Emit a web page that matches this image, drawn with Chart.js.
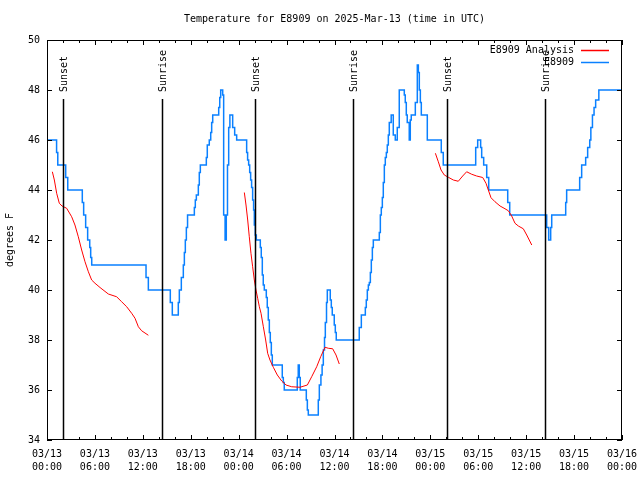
<!DOCTYPE html>
<html>
<head>
<meta charset="utf-8">
<script src="https://cdn.jsdelivr.net/npm/chart.js@4.4.0/dist/chart.umd.min.js"></script>
<style>
  body { margin: 0; background: #fff; }
</style>
</head>
<body>
<canvas id="temps" width="640" height="480"></canvas>
<script>
// hours after 03/13 00:00 UTC
var obsHours = [0, 1.2, 1.35, 2.34, 2.6, 4.42, 4.59, 4.84, 5.09, 5.35, 5.47, 5.6, 12.4, 12.69,
  15.44, 15.69, 16.44, 16.57, 16.82, 17.07, 17.2, 17.32, 17.45, 17.6, 18.45, 18.57, 18.7, 18.95,
  19.07, 19.2, 19.95, 20.07, 20.32, 20.5, 20.62, 20.75, 21.5, 21.63, 21.75, 22.0, 22.12, 22.3,
  22.45, 22.6, 22.75, 22.9, 23.25, 23.5, 23.75, 25.0, 25.12, 25.25, 25.38, 25.5, 25.62, 25.75,
  25.87, 25.96, 26.08, 26.21, 26.71, 26.83, 26.96, 27.08, 27.21, 27.46, 27.58, 27.71, 27.84,
  27.96, 28.09, 28.21, 29.46, 29.59, 29.71, 31.34, 31.46, 31.59, 31.71, 32.47, 32.6, 32.72,
  33.97, 34.1, 34.3, 34.45, 34.6, 34.75, 34.85, 35.0, 35.1, 35.47, 35.6, 35.72, 35.97, 36.1,
  36.22, 39.1, 39.36, 39.86, 39.98, 40.11, 40.24, 40.36, 40.49, 40.61, 40.74, 40.86, 41.61,
  41.74, 41.86, 41.99, 42.11, 42.24, 42.36, 42.49, 42.61, 42.74, 42.86, 43.1, 43.36, 43.61,
  43.86, 44.11, 44.74, 44.86, 44.99, 45.11, 45.36, 45.49, 45.61, 46.12, 46.37, 46.5, 46.62,
  46.75, 46.87, 47.62, 49.37, 49.62, 53.68, 53.93, 54.3, 54.43, 54.68, 55.06, 55.31, 57.69,
  57.94, 62.57, 62.82, 63.07, 63.2, 64.95, 65.07, 66.7, 66.95, 67.45, 67.7, 67.96, 68.1, 68.3,
  68.5, 68.7, 69.1, 72];
var obsTemps = [46, 45.5, 45, 44.5, 44, 43.5, 43, 42.5, 42, 41.7, 41.3, 41, 40.5, 40,
  39.5, 39, 39.5, 40, 40.5, 41, 41.5, 42, 42.5, 43, 43.3, 43.6, 43.8, 44.2,
  44.7, 45, 45.3, 45.8, 46, 46.3, 46.7, 47, 47.3, 47.7, 48, 47.8, 43, 42,
  43, 45, 46.5, 47, 46.5, 46.2, 46, 45.5, 45.2, 45, 44.7, 44.4, 44.1, 43.6,
  43.2, 42.6, 42.2, 42, 41.7, 41.3, 40.6, 40.2, 40, 39.7, 39.3, 38.8, 38.3,
  37.9, 37.4, 37, 36.5, 36.3, 36, 36.5, 37, 36.5, 36, 35.6, 35.2, 35,
  35.6, 36.2, 36.6, 37, 37.6, 38.1, 38.7, 39.5, 40, 39.6, 39.3, 39, 38.6, 38.3,
  38, 38.5, 39, 39.3, 39.6, 40, 40.2, 40.3, 40.7, 41.2, 41.7, 42, 42.3,
  43, 43.3, 43.7, 44.3, 45, 45.3, 45.5, 45.8, 46.2, 46.7, 47, 46.2, 46,
  46.5, 48, 47.8, 47.5, 47, 46.7, 46, 46.8, 47, 47.5, 49, 48.7, 48,
  47.5, 47, 46, 45.5, 45, 45.7, 46, 45.7, 45.3, 45, 44.5, 44, 43.5,
  43, 42.5, 42, 42.5, 43, 43.5, 44, 44.5, 45, 45.3, 45.7, 46, 46.5, 47,
  47.3, 47.6, 48, 48];

// analysis runs, null = gap between runs
var anaHours = [0.67, 0.92, 1.21, 1.54, 1.88, 2.46, 3.09, 3.5, 3.92, 4.34, 4.76, 5.18, 5.59,
  6.01, 6.64, 7.68, 8.72, 9.35, 9.98, 10.6, 11.02, 11.44, 11.85, 12.69, 18,
  24.71, 24.92, 25.13, 25.33, 25.54, 25.75, 25.96, 26.17, 26.38, 26.59, 26.8, 27.09, 27.38,
  27.63, 27.92, 28.34, 28.84, 29.39, 29.93, 30.64, 31.68, 32.6, 33.14, 33.77, 34.27, 34.81,
  35.22, 35.77, 36.19, 36.6, 42,
  48.63, 49.0, 49.34, 49.75, 50.25, 50.88, 51.5, 52.05, 52.55, 53.18, 53.8, 54.56, 54.97,
  55.26, 55.6, 56.1, 56.73, 57.35, 57.77, 58.19, 58.6, 59.02, 59.64, 60.07, 60.7];
var anaTemps = [44.73, 44.4, 43.87, 43.47, 43.36, 43.27, 42.93, 42.6, 42.13, 41.6, 41.13, 40.73, 40.4,
  40.27, 40.1, 39.84, 39.73, 39.53, 39.33, 39.07, 38.87, 38.53, 38.37, 38.19, null,
  43.9, 43.4, 42.8, 42.13, 41.47, 40.93, 40.4, 40.0, 39.67, 39.33, 39.07, 38.53, 38.0,
  37.47, 37.2, 36.91, 36.6, 36.36, 36.2, 36.13, 36.11, 36.2, 36.53, 36.93, 37.33, 37.71,
  37.67, 37.65, 37.4, 37.04, null,
  45.47, 45.13, 44.8, 44.6, 44.51, 44.4, 44.35, 44.56, 44.73, 44.63, 44.56, 44.5, 44.27,
  44.0, 43.69, 43.53, 43.36, 43.25, 43.17, 42.96, 42.67, 42.56, 42.45, 42.2, 41.8];

var sunsetHours = [2.05, 26.05, 50.1];
var sunriseHours = [14.45, 38.35, 62.4];

var FONT = '10px "DejaVu Sans Mono", monospace';

function pts(xs, ys) {
  return xs.map(function (x, i) { return { x: x, y: ys[i] }; });
}

function pad2(n) { return (n < 10 ? '0' : '') + n; }

// the gnuplot bits: frame, inward ticks, sun lines, title, legend
var gnuplotLook = {
  id: 'gnuplotLook',
  afterDatasetsDraw: function (chart) {
    var ctx = chart.ctx, a = chart.chartArea;
    var xs = chart.scales.x, ys = chart.scales.y;
    ctx.save();
    ctx.strokeStyle = '#000';
    ctx.fillStyle = '#000';
    ctx.font = FONT;

    // sunrise / sunset markers
    var events = sunsetHours.map(function (h) { return [h, 'Sunset']; })
      .concat(sunriseHours.map(function (h) { return [h, 'Sunrise']; }));
    events.forEach(function (ev) {
      var px = Math.round(xs.getPixelForValue(ev[0])) + 0.5;
      ctx.lineWidth = 1.5;
      ctx.beginPath();
      ctx.moveTo(px, a.top + 59);
      ctx.lineTo(px, a.bottom);
      ctx.stroke();
      ctx.save();
      ctx.translate(px + 1, a.top + 52);
      ctx.rotate(-Math.PI / 2);
      ctx.textAlign = 'left';
      ctx.textBaseline = 'middle';
      ctx.fillText(ev[1], 0, 0);
      ctx.restore();
    });

    // frame
    ctx.lineWidth = 1;
    ctx.strokeRect(a.left + 0.5, a.top + 0.5, a.right - a.left - 1, a.bottom - a.top - 1);

    // ticks pointing inwards, mirrored
    ctx.beginPath();
    xs.ticks.forEach(function (t) {
      var px = Math.round(xs.getPixelForValue(t.value)) + 0.5;
      var len = t.value % 6 === 0 ? 5 : 3;
      ctx.moveTo(px, a.bottom); ctx.lineTo(px, a.bottom - len);
      ctx.moveTo(px, a.top); ctx.lineTo(px, a.top + len);
    });
    ys.ticks.forEach(function (t) {
      var py = Math.round(ys.getPixelForValue(t.value)) + 0.5;
      ctx.moveTo(a.left, py); ctx.lineTo(a.left + 5, py);
      ctx.moveTo(a.right, py); ctx.lineTo(a.right - 5, py);
    });
    ctx.stroke();

    // title and y label
    ctx.textAlign = 'center';
    ctx.textBaseline = 'middle';
    ctx.fillText('Temperature for E8909 on 2025-Mar-13 (time in UTC)', (a.left + a.right) / 2, 19);
    ctx.save();
    ctx.translate(10, (a.top + a.bottom) / 2);
    ctx.rotate(-Math.PI / 2);
    ctx.fillText('degrees F', 0, 0);
    ctx.restore();

    // key
    ctx.textAlign = 'right';
    chart.data.datasets.forEach(function (ds, i) {
      var y = a.top + 10 + i * 12;
      ctx.fillStyle = '#000';
      ctx.fillText(ds.label, a.right - 48, y);
      ctx.strokeStyle = ds.borderColor;
      ctx.lineWidth = 1.5;
      ctx.beginPath();
      ctx.moveTo(a.right - 41, y + 0.5);
      ctx.lineTo(a.right - 13, y + 0.5);
      ctx.stroke();
    });
    ctx.restore();
  }
};

new Chart(document.getElementById('temps'), {
  type: 'line',
  data: {
    datasets: [{
      label: 'E8909 Analysis',
      data: pts(anaHours, anaTemps),
      borderColor: '#ff0000',
      borderWidth: 1,
      pointRadius: 0,
      spanGaps: false
    }, {
      label: 'E8909',
      data: pts(obsHours, obsTemps),
      borderColor: '#0a80ff',
      borderWidth: 1.5,
      pointRadius: 0,
      stepped: true
    }]
  },
  options: {
    responsive: false,
    animation: false,
    devicePixelRatio: 1,
    layout: { padding: { top: 40, right: 18, left: 0, bottom: 0 } },
    plugins: {
      legend: { display: false },
      title: { display: false },
      tooltip: { enabled: false }
    },
    scales: {
      x: {
        type: 'linear',
        min: 0,
        max: 72,
        afterFit: function (s) {
          s.height = 40;
          s.paddingLeft = 0;
          s.paddingRight = 0;
        },
        grid: { display: false, drawTicks: false },
        border: { display: false },
        ticks: {
          stepSize: 2,
          autoSkip: false,
          maxRotation: 0,
          padding: 8,
          color: '#000',
          font: { family: '"DejaVu Sans Mono", monospace', size: 10, lineHeight: 1.3 },
          callback: function (v) {
            if (v % 6 !== 0) return '';
            var day = 13 + Math.floor(v / 24);
            return ['03/' + pad2(day), pad2(v % 24) + ':00'];
          }
        }
      },
      y: {
        min: 34,
        max: 50,
        afterFit: function (s) { s.width = 47; },
        grid: { display: false, drawTicks: false },
        border: { display: false },
        ticks: {
          stepSize: 2,
          padding: 7,
          color: '#000',
          font: { family: '"DejaVu Sans Mono", monospace', size: 10 }
        }
      }
    }
  },
  plugins: [gnuplotLook]
});
</script>
</body>
</html>
